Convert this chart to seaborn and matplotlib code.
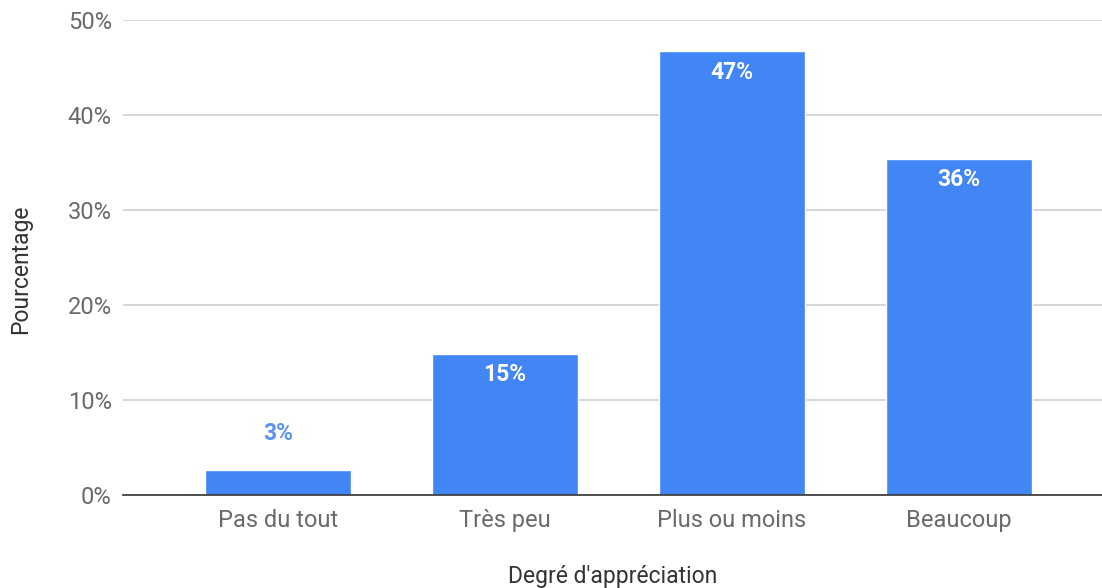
import matplotlib.pyplot as plt
import pandas as pd
import seaborn as sns
from matplotlib.ticker import FuncFormatter

# Données
categories = ['Pas du tout', 'Très peu', 'Plus ou moins', 'Beaucoup']
values = [2.6, 14.9, 46.7, 35.4]
labels = ['3%', '15%', '47%', '36%']

df = pd.DataFrame({'categorie': categories, 'pourcentage': values})

sns.set_style('white')
plt.rcParams['font.family'] = ['Roboto', 'DejaVu Sans']

fig = plt.figure(figsize=(11.02, 5.88), dpi=100)
ax = fig.add_axes([0.1116, 0.158, 0.8884, 0.808])

blue = '#4285F4'
sns.barplot(data=df, x='categorie', y='pourcentage', color=blue, width=0.64,
            saturation=1, ax=ax, zorder=3)

ax.set_ylim(0, 50)
ax.set_xlim(-0.683, 3.63)
ax.set_yticks([0, 10, 20, 30, 40, 50])
ax.yaxis.set_major_formatter(FuncFormatter(lambda v, p: f'{int(v)}%'))
ax.grid(axis='y', color='#d0d0d0', linewidth=1.2, zorder=0)
ax.grid(axis='x', visible=False)

for s in ['left', 'right', 'top']:
    ax.spines[s].set_visible(False)
ax.spines['bottom'].set_color('#333333')
ax.spines['bottom'].set_linewidth(1.2)
ax.spines['bottom'].set_zorder(4)

ax.tick_params(axis='both', length=0, labelsize=17, labelcolor='#6a6a6a')
ax.tick_params(axis='x', pad=10)
ax.tick_params(axis='y', pad=8)

ax.set_xlabel("Degré d'appréciation", fontsize=16.5, color='#333333', labelpad=24)
ax.set_ylabel('Pourcentage', fontsize=16.5, color='#333333', labelpad=5)
ax.yaxis.set_label_coords(-0.093, 0.475)

# Étiquettes de valeurs
for i, (v, lab) in enumerate(zip(values, labels)):
    if v > 8:
        ax.annotate(lab, (i, v), xytext=(0, -21), textcoords='offset pixels',
                    ha='center', va='center', color='white', fontsize=16.5,
                    fontweight='bold', zorder=5)
    else:
        ax.annotate(lab, (i, v), xytext=(0, 37), textcoords='offset pixels',
                    ha='center', va='center', color='#5a93f0', fontsize=16.5,
                    fontweight='bold', zorder=5)

fig.savefig('out.png', dpi=100)
